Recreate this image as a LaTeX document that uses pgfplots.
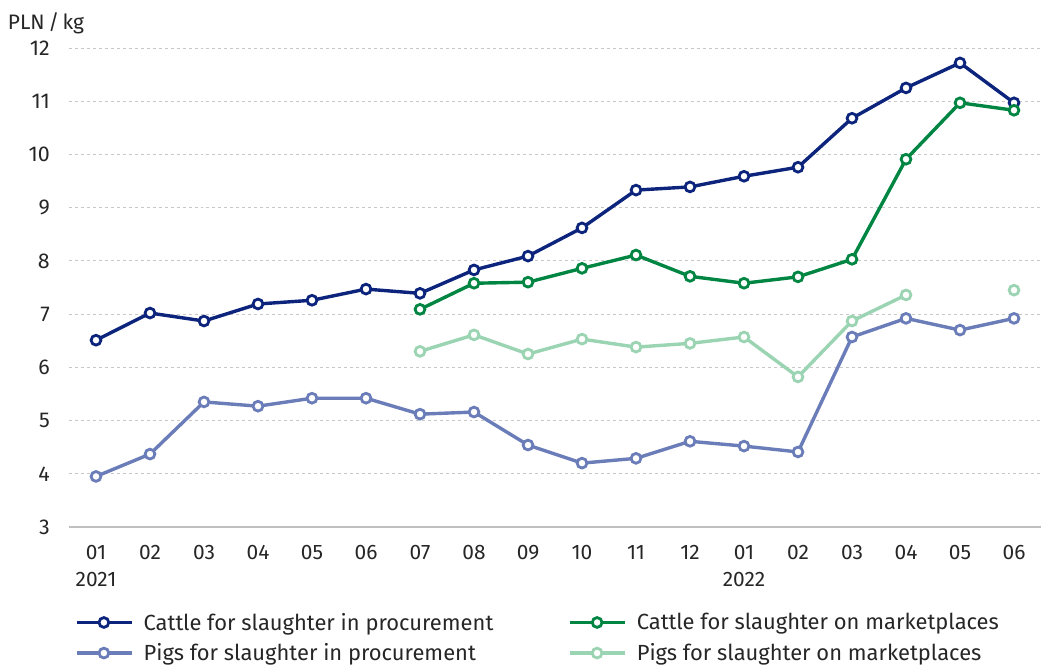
\documentclass[border=0pt]{standalone}
\usepackage{fontspec}
\setmainfont{Fira Sans}
\usepackage{pgfplots}
\pgfplotsset{compat=1.18}
\definecolor{cproc}{RGB}{12,36,124}
\definecolor{cmark}{RGB}{0,133,66}
\definecolor{pproc}{RGB}{106,125,184}
\definecolor{pmark}{RGB}{155,212,178}
\definecolor{labc}{RGB}{38,38,38}
\begin{document}
\begin{tikzpicture}[x=1bp,y=1bp]
\begin{axis}[name=ax, at={(0,0)}, anchor=south west, scale only axis,
  width=972bp, height=479bp,
  xmin=-0.5, xmax=17.5, ymin=3, ymax=12,
  xtick={0,...,17},
  xticklabels={01\\2021,02,03,04,05,06,07,08,09,10,11,12,01\\2022,02,03,04,05,06},
  ytick={3,...,12},
  major tick length=0pt,
  axis lines*=left,
  axis line style={-},
  x axis line style={draw=black!25, line width=1.3bp},
  y axis line style={draw=none},
  ymajorgrids, grid style={dashed, black!22, line width=0.8bp},
  /pgf/number format/assume math mode=true,
  xticklabel style={align=center, font=\fontsize{21}{27}\selectfont, text=labc, anchor=north, inner sep=0pt, yshift=-18bp},
  yticklabel style={font=\fontsize{21.5}{27}\selectfont, text=labc, anchor=east, inner sep=0pt, xshift=-19bp},
  unbounded coords=jump,
  every axis plot/.append style={line width=3.4bp, mark=*, mark size=4.9bp, mark options={fill=white, line width=2.8bp, solid}},
  legend columns=2,
  legend cell align=left,
  legend style={at={(0,0)}, anchor=north west, xshift=6bp, yshift=-84bp, draw=none, fill=none,
    inner sep=0pt, font=\fontsize{22}{26}\selectfont, text=labc, row sep=8bp,
    /tikz/every odd column/.append style={column sep=8bp},
    /tikz/every even column/.append style={column sep=73bp}},
  legend image code/.code={\draw[mark repeat=2, mark phase=2, #1] plot coordinates {(0bp,0bp) (27bp,0bp) (55bp,0bp)};},
]
\addplot[color=cproc] coordinates {
(0,6.51) (1,7.02) (2,6.87) (3,7.19) (4,7.26) (5,7.47) (6,7.39) (7,7.83) (8,8.09)
(9,8.62) (10,9.33) (11,9.39) (12,9.59) (13,9.76) (14,10.68) (15,11.25) (16,11.72) (17,10.97)};
\addlegendentry{Cattle for slaughter in procurement}
\addplot[color=cmark] coordinates {
(6,7.09) (7,7.58) (8,7.60) (9,7.86) (10,8.11) (11,7.71) (12,7.58) (13,7.70)
(14,8.03) (15,9.91) (16,10.97) (17,10.83)};
\addlegendentry{Cattle for slaughter on marketplaces}
\addplot[color=pproc] coordinates {
(0,3.95) (1,4.37) (2,5.35) (3,5.27) (4,5.42) (5,5.42) (6,5.12) (7,5.16) (8,4.54)
(9,4.20) (10,4.29) (11,4.61) (12,4.52) (13,4.41) (14,6.57) (15,6.92) (16,6.70) (17,6.92)};
\addlegendentry{Pigs for slaughter in procurement}
\addplot[color=pmark] coordinates {
(6,6.30) (7,6.61) (8,6.25) (9,6.53) (10,6.38) (11,6.45) (12,6.57) (13,5.82)
(14,6.87) (15,7.36) (16,nan) (17,7.45)};
\addlegendentry{Pigs for slaughter on marketplaces}
\end{axis}
\node[font=\fontsize{21}{25}\selectfont, text=labc] at ([xshift=-23bp, yshift=25bp]ax.north west) {PLN\,/\,kg};
\pgfresetboundingbox
\path[use as bounding box] (-69,-138) rectangle (972,527);
\end{tikzpicture}
\end{document}
